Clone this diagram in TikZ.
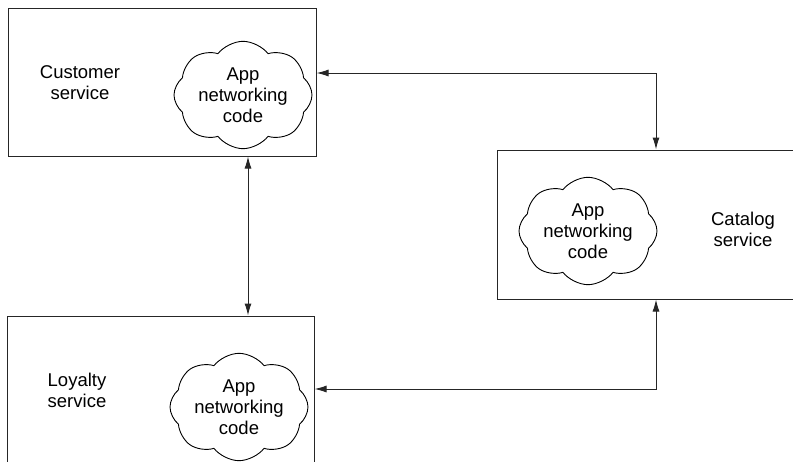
\documentclass[tikz,border=0pt]{standalone}
\usepackage{fontspec}
\setmainfont{Liberation Sans}
\usetikzlibrary{shapes.symbols,arrows.meta}
\begin{document}
\begin{tikzpicture}[x=1pt,y=-1pt,
  svc/.style={draw=black!85,line width=1pt,inner sep=0pt},
  cloudnode/.style={cloud,cloud puffs=8,cloud puff arc=105,aspect=1.4,draw=black,line width=0.9pt,
    inner sep=0pt,minimum width=138pt,minimum height=102pt,align=center,
    font=\fontsize{18.5}{21}\selectfont},
  lbl/.style={align=center,font=\fontsize{18.5}{21}\selectfont},
  link/.style={draw=black!85,line width=1pt,{Latex[length=12pt,width=7pt]}-{Latex[length=12pt,width=7pt]}}]
\clip (0,0) rectangle (793,461);
\fill[white] (0,0) rectangle (793,461);
% boxes
\node[svc,minimum width=308pt,minimum height=148pt] (cust) at (162,82) {};
\node[svc,minimum width=307pt,minimum height=170pt] (loy) at (160.5,401) {};
\node[svc,minimum width=310pt,minimum height=149pt] (cat) at (652,224.5) {};
% labels
\node[lbl] (custl) at (80,83) {Customer\\service};
\node[lbl] (loyl) at (77,390) {Loyalty\\service};
\node[lbl] (catl) at (743,229) {Catalog\\service};
% clouds
\node[cloudnode] (custc) at (243,95) {App\\networking\\code};
\node[cloudnode] (loyc) at (239,407) {App\\networking\\code};
\node[cloudnode] (catc) at (588,231) {App\\networking\\code};
% connectors
\coordinate (c1) at (656,73);
\coordinate (c2) at (656,389);
\path[link] (cust.east |- c1) -- (c1) -- (c1 |- cat.north);
\path[link] (cust.south -| 248,0) -- (loy.north -| 248,0);
\path[link] (loy.east |- c2) -- (c2) -- (c2 |- cat.south);
\end{tikzpicture}
\end{document}
